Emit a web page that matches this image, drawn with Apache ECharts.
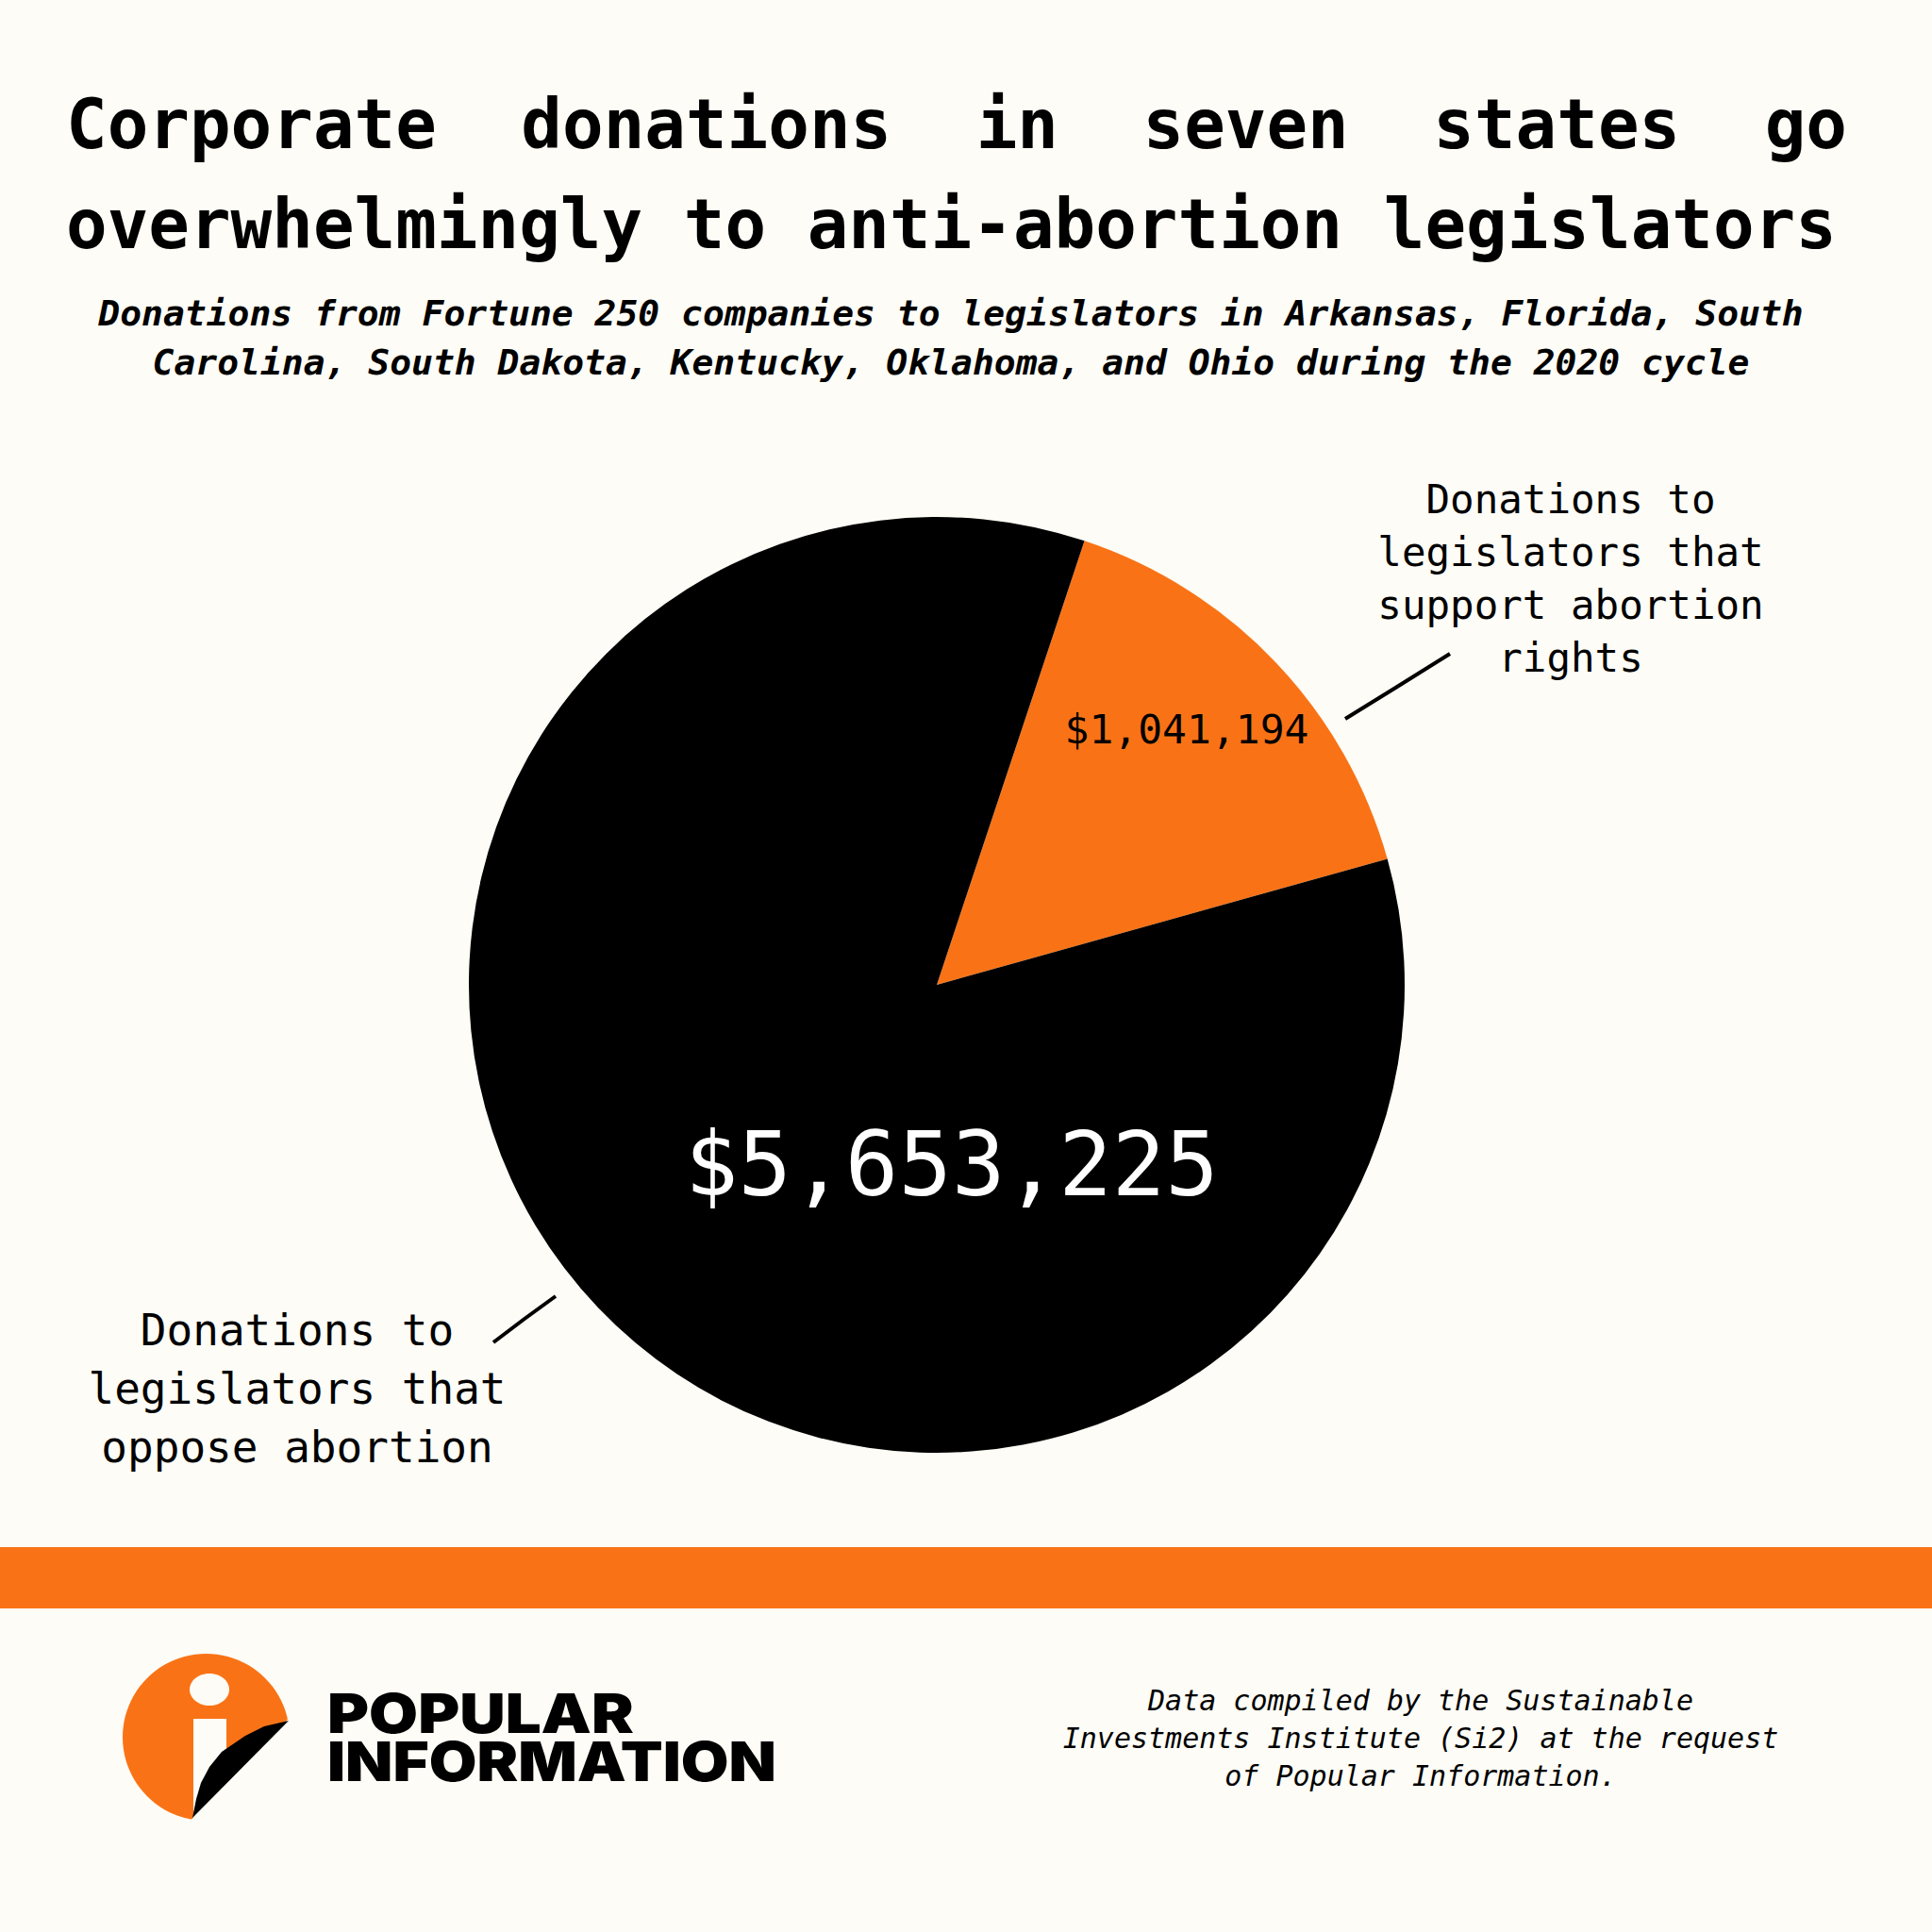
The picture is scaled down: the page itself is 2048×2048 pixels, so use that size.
<!DOCTYPE html>
<html><head><meta charset="utf-8">
<script src="https://cdn.jsdelivr.net/npm/echarts@6/dist/echarts.min.js"></script>
<style>html,body{margin:0;padding:0;background:#FDFCF6}#c{width:2048px;height:2048px}</style>
</head><body><div id="c"></div>
<script>
// ---- data ----
const categories = ['Donations to legislators that support abortion rights', 'Donations to legislators that oppose abortion'];
const values = [1041194, 5653225];
const annotationLines = [
  ['Donations to', 'legislators that', 'support abortion', 'rights'],
  ['Donations to', 'legislators that', 'oppose abortion']
];
const titleLines = ['Corporate donations in seven states go', 'overwhelmingly to anti-abortion legislators'];
const subtitleLines = [
  'Donations from Fortune 250 companies to legislators in Arkansas, Florida, South',
  'Carolina, South Dakota, Kentucky, Oklahoma, and Ohio during the 2020 cycle'
];
const sourceLines = [
  'Data compiled by the Sustainable',
  'Investments Institute (Si2) at the request',
  'of Popular Information.'
];
const brandLines = ['POPULAR', 'INFORMATION'];

// ---- style / layout ----
const BG = '#FDFCF6';
const ORANGE = '#F97316';
const MONO = '"DejaVu Sans Mono", "Liberation Mono", monospace';
const sliceColors = [ORANGE, '#000000'];
const PIE_CENTER = [993, 1044];
const PIE_RADIUS = 496;
const START_ANGLE = 71.6;
const valueLabelPos = [
  { x: 1258, y: 773, color: '#000', fontSize: 43 },
  { x: 1009, y: 1234, color: '#fff', fontSize: 94 }
];
const annotationPos = [
  { x: 1665, y: 613, fontSize: 42.5, lineHeight: 56, line: [[1426, 762], [1481, 728], [1537, 693]] },
  { x: 315, y: 1472, fontSize: 46, lineHeight: 62, line: [[523, 1423], [556, 1398], [589, 1374]] }
];

const chart = echarts.init(document.getElementById('c'), null, { renderer: 'svg', width: 2048, height: 2048 });

const ctx = document.createElement('canvas').getContext('2d');
function measure(text, font) { ctx.font = font; return ctx.measureText(text).width; }

const graphics = [];
// orange band
graphics.push({ type: 'rect', shape: { x: 0, y: 1640, width: 2048, height: 65 }, style: { fill: ORANGE }, silent: true });

// title line 1: justified
const TFS = 72.5;
const titleFont = 'bold ' + TFS + 'px ' + MONO;
(function () {
  const words = titleLines[0].split(' ');
  const widths = words.map(w => measure(w, titleFont));
  const total = widths.reduce((a, b) => a + b, 0);
  const left = 70, right = 1958;
  const gap = (right - left - total) / (words.length - 1);
  let x = left;
  words.forEach((w, i) => {
    graphics.push({ type: 'text', x: x, y: 132, silent: true,
      style: { text: w, fill: '#000', font: titleFont, textAlign: 'left', textVerticalAlign: 'middle' } });
    x += widths[i] + gap;
  });
})();
graphics.push({ type: 'text', x: 70, y: 238, silent: true,
  style: { text: titleLines[1], fill: '#000', font: titleFont, textAlign: 'left', textVerticalAlign: 'middle' } });

// subtitle
subtitleLines.forEach((t, i) => {
  graphics.push({ type: 'text', x: 1008, y: 332 + i * 52, silent: true,
    style: { text: t, fill: '#000', font: 'italic bold 38px ' + MONO, textAlign: 'center', textVerticalAlign: 'middle' } });
});

// source note
graphics.push({ type: 'text', x: 1506, y: 1842, silent: true,
  style: { text: sourceLines.join('\n'), fill: '#000', font: 'italic 30px ' + MONO, lineHeight: 40, textAlign: 'center', textVerticalAlign: 'middle' } });

// logo
graphics.push({ type: 'circle', shape: { cx: 218.5, cy: 1841.5, r: 88.5 }, style: { fill: ORANGE }, silent: true });
graphics.push({ type: 'ellipse', shape: { cx: 222, cy: 1791, rx: 21, ry: 17 }, style: { fill: BG }, silent: true });
graphics.push({ type: 'rect', shape: { x: 205, y: 1822, width: 35, height: 106 }, style: { fill: BG }, silent: true });
graphics.push({ type: 'polygon', shape: { points: [[318, 1809], [194, 1938], [345, 1965], [345, 1790]] }, style: { fill: BG }, silent: true });
graphics.push({ type: 'polygon', shape: { points: [[306, 1824], [280, 1830], [260, 1840], [235, 1857], [222, 1873], [213, 1890], [208, 1907], [204, 1927]] }, style: { fill: '#000' }, silent: true });

// brand text
const brandFont = '900 58px Inter, "Noto Sans", sans-serif';
const brandTargets = [325, 476];
brandLines.forEach((t, i) => {
  const w = measure(t, brandFont);
  graphics.push({ type: 'text', x: 347, y: 1816 + i * 51, scaleX: brandTargets[i] / w, silent: true,
    style: { text: t, fill: '#000', font: brandFont, textAlign: 'left', textVerticalAlign: 'middle' } });
});

const option = {
  backgroundColor: BG,
  animation: false,
  graphic: graphics,
  series: [
    {
      type: 'pie', center: PIE_CENTER, radius: PIE_RADIUS, startAngle: START_ANGLE, clockwise: true,
      avoidLabelOverlap: false, silent: true,
      itemStyle: { borderWidth: 0 },
      data: values.map((v, i) => ({
        value: v, name: categories[i],
        itemStyle: { color: sliceColors[i] },
        label: { color: valueLabelPos[i].color, fontSize: valueLabelPos[i].fontSize }
      })),
      label: { show: true, position: 'inside', fontFamily: MONO,
        formatter: p => '$' + p.value.toLocaleString('en-US') },
      labelLine: { show: false },
      labelLayout: p => ({ x: valueLabelPos[p.dataIndex].x, y: valueLabelPos[p.dataIndex].y, align: 'center', verticalAlign: 'middle' })
    },
    {
      type: 'pie', center: PIE_CENTER, radius: PIE_RADIUS, startAngle: START_ANGLE, clockwise: true,
      avoidLabelOverlap: false, silent: true, z: 3,
      itemStyle: { color: 'rgba(0,0,0,0)', borderWidth: 0 },
      data: values.map((v, i) => ({
        value: v, name: categories[i],
        label: { fontSize: annotationPos[i].fontSize, lineHeight: annotationPos[i].lineHeight }
      })),
      label: { show: true, position: 'outside', fontFamily: MONO, color: '#000', align: 'center',
        formatter: p => annotationLines[p.dataIndex].join('\n') },
      labelLine: { show: true, length: 10, length2: 10, smooth: false, lineStyle: { color: '#000', width: 4 } },
      labelLayout: p => ({
        x: annotationPos[p.dataIndex].x, y: annotationPos[p.dataIndex].y,
        align: 'center', verticalAlign: 'middle',
        labelLinePoints: annotationPos[p.dataIndex].line
      })
    }
  ]
};
chart.setOption(option);
</script></body></html>
